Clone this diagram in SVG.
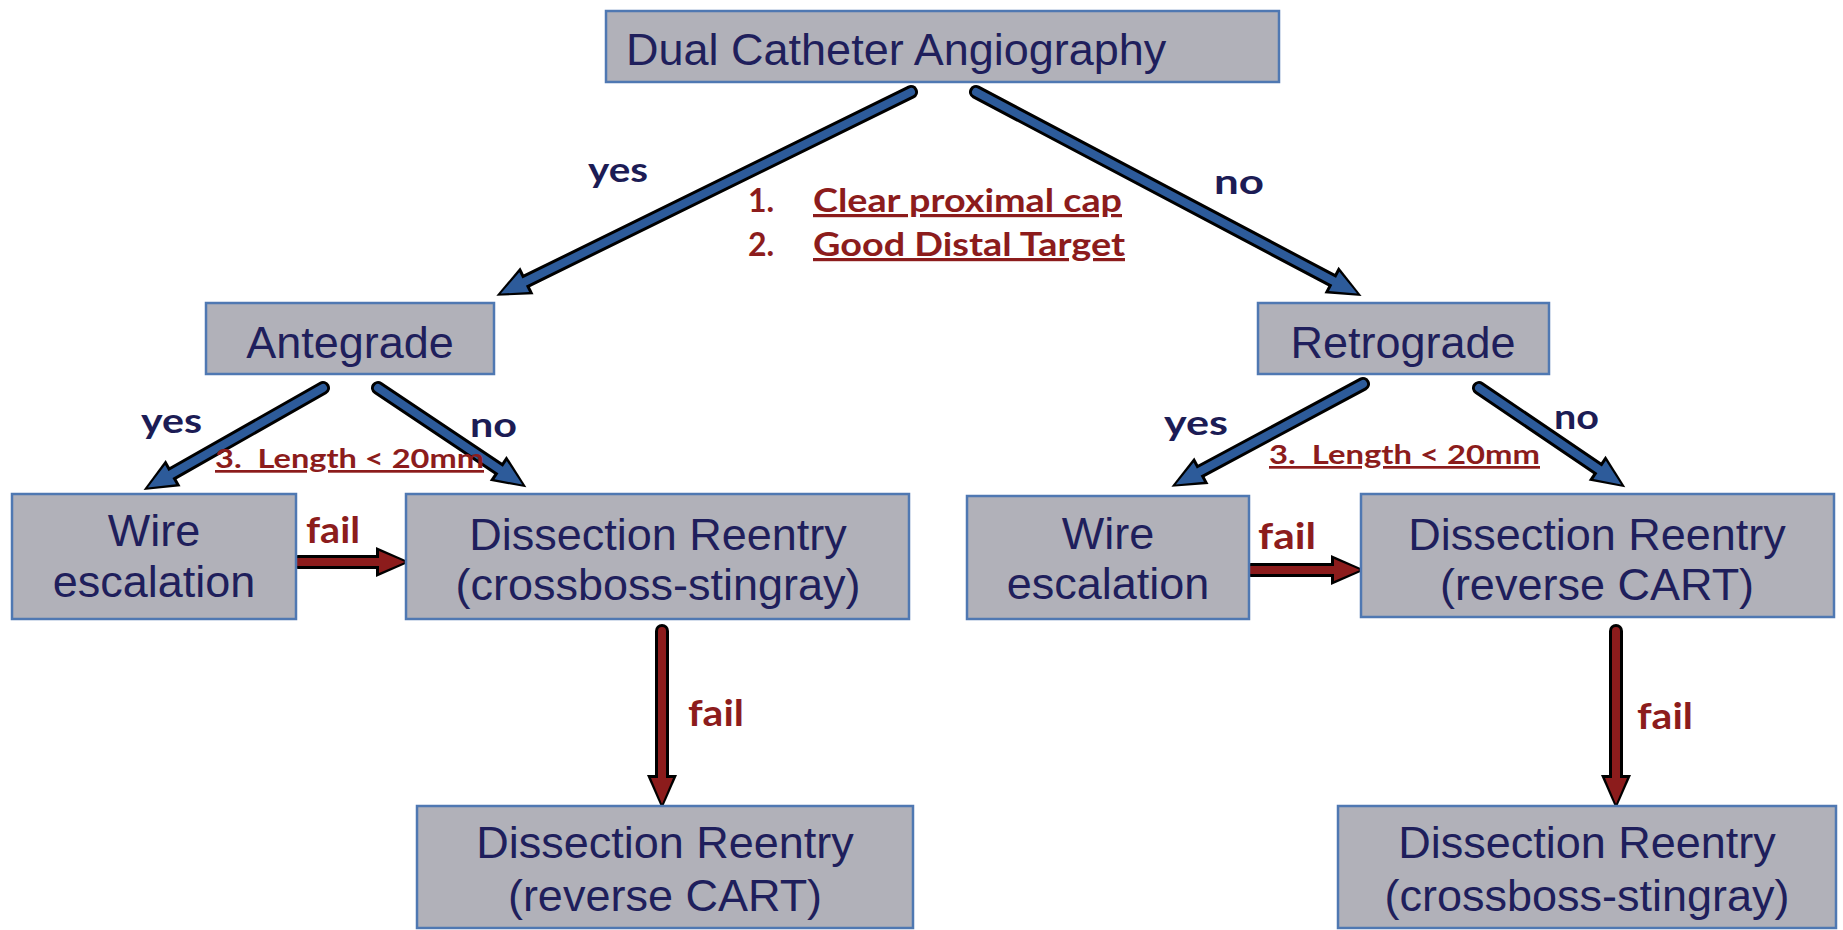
<svg xmlns="http://www.w3.org/2000/svg" width="1843" height="930" viewBox="0 0 1843 930">
<style>
.box{fill:#b1b1b9;stroke:#4f78b2;stroke-width:2.5}
.nt{font-family:"Liberation Sans",Arial,sans-serif;font-size:45px;fill:#1f1f5c;text-anchor:middle}
.lbl{font-family:Lato,"Open Sans",sans-serif;font-weight:bold;font-size:35px;fill:#1c1c55}
.red{font-family:Lato,"Open Sans",sans-serif;font-weight:bold;fill:#8c1c1c}
.ul{text-decoration:underline}
.kb{stroke:#000;stroke-width:14;stroke-linecap:round;fill:none}
.bl{stroke:#2d5b9a;stroke-width:8;stroke-linecap:round;fill:none}
.rd{stroke:#8c1c1c;stroke-width:8;stroke-linecap:round;fill:none}
</style>
<defs>
<marker id="hk" markerUnits="userSpaceOnUse" viewBox="-10 -20 40 40" markerWidth="40" markerHeight="40" refX="0" refY="0" orient="auto">
<path d="M-6,-15 L28,0 L-6,15 z" fill="#000"/>
</marker>
<marker id="hb" markerUnits="userSpaceOnUse" viewBox="-10 -20 40 40" markerWidth="40" markerHeight="40" refX="0" refY="0" orient="auto">
<path d="M-3,-11 L23,0 L-3,11 z" fill="#2d5b9a"/>
</marker>
<marker id="hr" markerUnits="userSpaceOnUse" viewBox="-10 -20 40 40" markerWidth="40" markerHeight="40" refX="0" refY="0" orient="auto">
<path d="M-3,-11 L23,0 L-3,11 z" fill="#8c1c1c"/>
</marker>
</defs>
<rect width="1843" height="930" fill="#fff"/>

<g id="connectors">
<g id="c-top-yes"><line class="kb" x1="911" y1="92" x2="521.5" y2="283.4" marker-end="url(#hk)"/><line class="bl" x1="911" y1="92" x2="521.5" y2="283.4" marker-end="url(#hb)"/></g>
<g id="c-top-no"><line class="kb" x1="976" y1="92" x2="1336.8" y2="282.8" marker-end="url(#hk)"/><line class="bl" x1="976" y1="92" x2="1336.8" y2="282.8" marker-end="url(#hb)"/></g>
<g id="c-ante-yes"><line class="kb" x1="323" y1="388" x2="167.9" y2="476.1" marker-end="url(#hk)"/><line class="bl" x1="323" y1="388" x2="167.9" y2="476.1" marker-end="url(#hb)"/></g>
<g id="c-ante-no"><line class="kb" x1="378" y1="388" x2="503.1" y2="471.7" marker-end="url(#hk)"/><line class="bl" x1="378" y1="388" x2="503.1" y2="471.7" marker-end="url(#hb)"/></g>
<g id="c-retro-yes"><line class="kb" x1="1363" y1="384" x2="1196.1" y2="473.6" marker-end="url(#hk)"/><line class="bl" x1="1363" y1="384" x2="1196.1" y2="473.6" marker-end="url(#hb)"/></g>
<g id="c-retro-no"><line class="kb" x1="1479" y1="388" x2="1602.1" y2="471.5" marker-end="url(#hk)"/><line class="bl" x1="1479" y1="388" x2="1602.1" y2="471.5" marker-end="url(#hb)"/></g>
<g id="c-fail-l"><line class="kb" x1="298" y1="562" x2="382" y2="562" marker-end="url(#hk)"/><line class="rd" x1="298" y1="562" x2="382" y2="562" marker-end="url(#hr)"/></g>
<g id="c-fail-r"><line class="kb" x1="1251" y1="570" x2="1337" y2="570" marker-end="url(#hk)"/><line class="rd" x1="1251" y1="570" x2="1337" y2="570" marker-end="url(#hr)"/></g>
<g id="c-fail-vl"><line class="kb" x1="662" y1="631" x2="662" y2="781" marker-end="url(#hk)"/><line class="rd" x1="662" y1="631" x2="662" y2="781" marker-end="url(#hr)"/></g>
<g id="c-fail-vr"><line class="kb" x1="1616" y1="631" x2="1616" y2="781" marker-end="url(#hk)"/><line class="rd" x1="1616" y1="631" x2="1616" y2="781" marker-end="url(#hr)"/></g>
</g>

<g id="labels">
<text class="lbl" x="588" y="182" textLength="60" lengthAdjust="spacingAndGlyphs">yes</text>
<text class="lbl" x="1214" y="194" textLength="50" lengthAdjust="spacingAndGlyphs">no</text>
<text class="red" x="748" y="212" font-size="32">1.</text>
<text class="red ul" x="813" y="212" font-size="32" textLength="309" lengthAdjust="spacingAndGlyphs">Clear proximal cap</text>
<text class="red" x="748" y="256" font-size="32">2.</text>
<text class="red ul" x="813" y="256" font-size="32" textLength="312" lengthAdjust="spacingAndGlyphs">Good Distal Target</text>
<text class="lbl" x="141" y="433" textLength="61" lengthAdjust="spacingAndGlyphs">yes</text>
<text class="lbl" x="470" y="437" textLength="47" lengthAdjust="spacingAndGlyphs">no</text>
<text class="red ul" x="215" y="468" font-size="27" textLength="269" lengthAdjust="spacingAndGlyphs" xml:space="preserve">3.  Length &lt; 20mm</text>
<text class="lbl" x="1164" y="435" textLength="64" lengthAdjust="spacingAndGlyphs">yes</text>
<text class="lbl" x="1554" y="429" textLength="45" lengthAdjust="spacingAndGlyphs">no</text>
<text class="red ul" x="1269" y="464" font-size="27" textLength="271" lengthAdjust="spacingAndGlyphs" xml:space="preserve">3.  Length &lt; 20mm</text>
<text class="red" x="306" y="543" font-size="37" textLength="54" lengthAdjust="spacingAndGlyphs">fail</text>
<text class="red" x="1258" y="549" font-size="37" textLength="58" lengthAdjust="spacingAndGlyphs">fail</text>
<text class="red" x="688" y="726" font-size="37" textLength="56" lengthAdjust="spacingAndGlyphs">fail</text>
<text class="red" x="1637" y="729" font-size="37" textLength="56" lengthAdjust="spacingAndGlyphs">fail</text>
</g>

<g id="n-dual"><rect class="box" x="606" y="11" width="673" height="71"/><text class="nt" x="626" y="65" style="text-anchor:start">Dual Catheter Angiography</text></g>
<g id="n-ante"><rect class="box" x="206" y="303" width="288" height="71"/><text class="nt" x="350" y="358">Antegrade</text></g>
<g id="n-retro"><rect class="box" x="1258" y="303" width="291" height="71"/><text class="nt" x="1403" y="358">Retrograde</text></g>
<g id="n-wire-l"><rect class="box" x="12" y="494" width="284" height="125"/><text class="nt" x="154" y="546">Wire</text><text class="nt" x="154" y="597">escalation</text></g>
<g id="n-dr-l"><rect class="box" x="406" y="494" width="503" height="125"/><text class="nt" x="658" y="550">Dissection Reentry</text><text class="nt" x="658" y="600">(crossboss-stingray)</text></g>
<g id="n-wire-r"><rect class="box" x="967" y="496" width="282" height="123"/><text class="nt" x="1108" y="549">Wire</text><text class="nt" x="1108" y="599">escalation</text></g>
<g id="n-dr-r"><rect class="box" x="1361" y="494" width="473" height="123"/><text class="nt" x="1597" y="550">Dissection Reentry</text><text class="nt" x="1597" y="600">(reverse CART)</text></g>
<g id="n-dr-bl"><rect class="box" x="417" y="806" width="496" height="122"/><text class="nt" x="665" y="858">Dissection Reentry</text><text class="nt" x="665" y="911">(reverse CART)</text></g>
<g id="n-dr-br"><rect class="box" x="1338" y="806" width="498" height="122"/><text class="nt" x="1587" y="858">Dissection Reentry</text><text class="nt" x="1587" y="911">(crossboss-stingray)</text></g>
</svg>
